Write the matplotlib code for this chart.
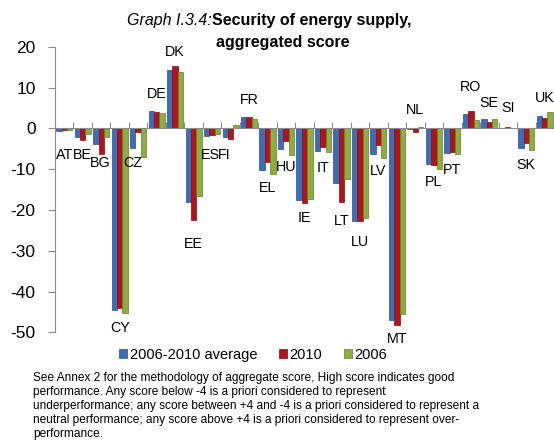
import matplotlib
matplotlib.use("Agg")
import matplotlib.pyplot as plt
from matplotlib.patches import Patch
import numpy as np

plt.rcParams['font.family'] = ['Liberation Sans', 'DejaVu Sans']
plt.rcParams['axes.unicode_minus'] = False

countries = ["AT", "BE", "BG", "CY", "CZ", "DE", "DK", "EE", "ES", "FI", "FR", "EL", "HU", "IE",
             "IT", "LT", "LU", "LV", "MT", "NL", "PL", "PT", "RO", "SE", "SI", "SK", "UK"]
avg_0610 = [-0.6, -2.2, -3.8, -44.5, -4.9, 4.3, 14.4, -18.0, -1.9, -2.2, 2.7, -10.3, -5.1, -17.6,
            -5.6, -13.5, -22.8, -6.4, -47.0, -0.1, -8.8, -6.0, 3.5, 2.2, 0.2, -4.7, 3.1]
score_2010 = [-0.3, -2.9, -6.3, -44.0, -0.8, 4.1, 15.3, -22.5, -1.6, -2.7, 2.7, -8.2, -3.2, -18.3,
              -4.6, -18.0, -22.7, -4.0, -48.2, -0.8, -9.0, -5.7, 4.2, 1.6, 0.3, -3.7, 2.6]
score_2006 = [-0.5, -1.4, -2.0, -45.3, -7.0, 3.8, 13.7, -16.6, -1.5, 0.7, 2.4, -11.3, -6.5, -17.4,
              -5.7, -12.5, -21.9, -7.2, -45.4, 0.3, -9.9, -6.2, 2.0, 2.4, 0.1, -5.2, 4.1]
series_names = ["2006-2010 average", "2010", "2006"]

# label layout (pixels beyond the bar extreme; positive = above)
label_dy = [-24, -15, -9, -15, -6, 17, 14, -24, -19, -16, 17, -14, -12, -15,
            -16, -19, -21, -13, -14, 17, -13, -16, 24, 16, 19, -15, 14]
label_dx = [0, 0, -1, 0, -5, 0, 0, 0, -2, -6, 0, 0, 0, 0,
            0, 0, 0, 0, 0, 0, 0, 0, 0, 0, 0, 0, 0]

colors = ["#3D6DB3", "#B0141C", "#8DAE3E"]
edge = ["#2A4F85", "#7E0E14", "#667F2A"]

fig = plt.figure(figsize=(5.54, 4.48), dpi=100)
ax = fig.add_axes([55/554, 1-332.5/448, 499/554, (332.5-46.7)/448])

x = np.arange(len(countries))
w = 0.29
for i, vals in enumerate([avg_0610, score_2010, score_2006]):
    ax.bar(x + (i-1)*w, vals, width=w, color=colors[i], edgecolor=edge[i], linewidth=0.5, zorder=2)

ax.set_xlim(-0.5, len(countries)-0.5)
ax.set_ylim(-50, 20)
ax.set_yticks([-50, -40, -30, -20, -10, 0, 10, 20])
ax.tick_params(axis='y', direction='out', length=5, color='#8C8C8C', labelsize=12.5, pad=9)
ax.spines['left'].set_color('#8C8C8C')
ax.spines['top'].set_visible(False)
ax.spines['right'].set_visible(False)
ax.spines['bottom'].set_position(('data', 0))
ax.spines['bottom'].set_color('#8C8C8C')
ax.spines['bottom'].set_zorder(3)
ax.set_xticks(np.arange(len(countries)+1) - 0.5)
ax.set_xticklabels([])
ax.tick_params(axis='x', direction='in', length=4, color='#8C8C8C')

for k, c in enumerate(countries):
    vals = [avg_0610[k], score_2010[k], score_2006[k]]
    ext = max(vals) if label_dy[k] > 0 else min(vals)
    ax.annotate(c, (x[k], ext), xytext=(label_dx[k], label_dy[k]), textcoords='offset pixels',
                ha='center', va='center', fontsize=10.3, zorder=4)

# title
fig.text(212/554, 1-20/448, "Graph I.3.4:", style='italic', fontsize=11.5, ha='right', va='center')
fig.text(212/554, 1-20/448, "Security of energy supply,", weight='bold', fontsize=11.5, ha='left', va='center')
fig.text(283/554, 1-42/448, "aggregated score", weight='bold', fontsize=11.5, ha='center', va='center')

handles = [Patch(facecolor=colors[i], edgecolor=edge[i], linewidth=0.5) for i in range(3)]
fig.legend(handles, series_names, loc='center', bbox_to_anchor=(253/554, 1-355/448), ncol=3,
           frameon=False, fontsize=10.5, handlelength=0.55, handleheight=0.55, handletextpad=0.15,
           columnspacing=1.5, borderaxespad=0)

note = ("See Annex 2 for the methodology of aggregate score, High score indicates good\n"
        "performance. Any score below -4 is a priori considered to represent\n"
        "underperformance; any score between +4 and -4 is a priori considered to represent a\n"
        "neutral performance; any score above +4 is a priori considered to represent over-\n"
        "performance.")
fig.text(33/554, 1-372/448, note, fontsize=8.6, ha='left', va='top', linespacing=1.22)

fig.savefig("out.png", dpi=100)
